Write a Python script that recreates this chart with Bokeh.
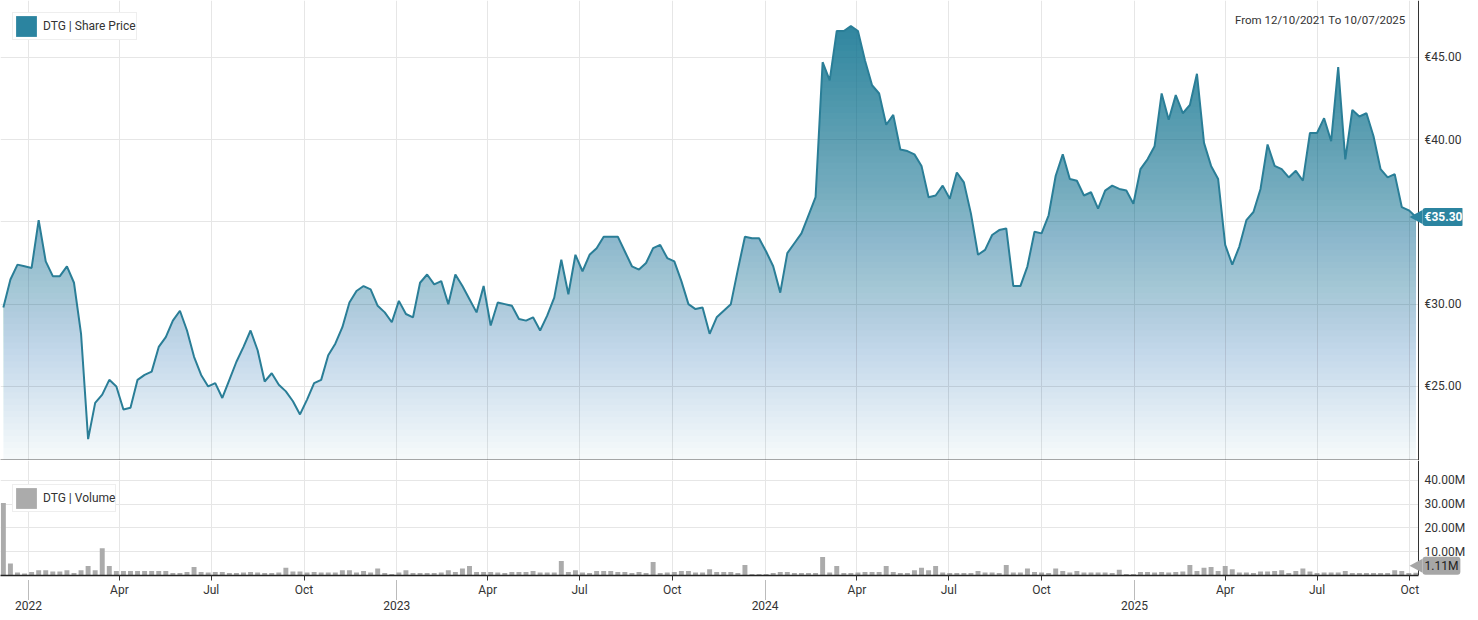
import numpy as np
import pandas as pd
from bokeh.plotting import figure
from bokeh.layouts import column
from bokeh.models import (Range1d, FixedTicker, DatetimeAxis, PrintfTickFormatter,
                          Legend, LegendItem, Label, PolyAnnotation, Span, BoxAnnotation)
from bokeh.embed import file_html
from bokeh.resources import INLINE

# ---------------- data ----------------
first_week = "2021-12-07"
n_weeks = 201
dates = pd.date_range(first_week, periods=n_weeks, freq="7D")

price = [
    29.8, 31.5, 32.4, 32.3, 32.2, 35.1, 32.6, 31.7, 31.7, 32.3,
    31.3, 28.2, 21.8, 24.0, 24.5, 25.4, 25.0, 23.6, 23.7, 25.4,
    25.7, 25.9, 27.4, 28.0, 29.0, 29.6, 28.4, 26.8, 25.7, 25.0,
    25.2, 24.3, 25.4, 26.5, 27.4, 28.4, 27.2, 25.3, 25.8, 25.1,
    24.7, 24.1, 23.3, 24.2, 25.2, 25.4, 26.9, 27.6, 28.6, 30.1,
    30.8, 31.1, 30.9, 29.9, 29.5, 28.9, 30.2, 29.4, 29.2, 31.3,
    31.8, 31.2, 31.4, 30.0, 31.8, 31.1, 30.3, 29.5, 31.1, 28.7,
    30.1, 30.0, 29.9, 29.1, 29.0, 29.2, 28.4, 29.3, 30.4, 32.7,
    30.6, 33.0, 32.0, 33.0, 33.4, 34.1, 34.1, 34.1, 33.2, 32.3,
    32.1, 32.5, 33.4, 33.6, 32.8, 32.6, 31.4, 30.0, 29.7, 29.8,
    28.2, 29.2, 29.6, 30.0, 32.1, 34.1, 34.0, 34.0, 33.2, 32.3,
    30.7, 33.1, 33.7, 34.3, 35.4, 36.5, 44.7, 43.6, 46.6, 46.6,
    46.9, 46.6, 44.8, 43.3, 42.8, 40.9, 41.5, 39.4, 39.3, 39.1,
    38.4, 36.5, 36.6, 37.2, 36.4, 38.0, 37.4, 35.5, 33.0, 33.3,
    34.2, 34.5, 34.6, 31.1, 31.1, 32.3, 34.4, 34.3, 35.4, 37.8,
    39.1, 37.6, 37.5, 36.6, 36.8, 35.8, 36.9, 37.2, 37.0, 36.9,
    36.1, 38.2, 38.8, 39.6, 42.8, 41.2, 42.7, 41.6, 42.1, 44.0,
    39.8, 38.4, 37.6, 33.6, 32.4, 33.5, 35.1, 35.6, 37.0, 39.7,
    38.4, 38.2, 37.7, 38.1, 37.5, 40.4, 40.4, 41.3, 39.9, 44.4,
    38.8, 41.8, 41.4, 41.6, 40.2, 38.2, 37.7, 37.9, 35.9, 35.7,
    35.3,
]

volume_m = [
    30.4, 5.0, 1.3, 0.8, 1.5, 2.2, 2.2, 1.7, 1.7, 2.2,
    1.1, 2.2, 4.0, 2.2, 11.4, 4.0, 1.9, 1.9, 1.9, 1.9,
    1.9, 1.9, 1.9, 1.9, 1.0, 1.0, 1.5, 3.6, 1.5, 1.3,
    1.5, 1.5, 1.0, 1.0, 1.3, 1.5, 1.3, 1.0, 1.0, 1.3,
    3.3, 1.7, 1.7, 1.3, 1.5, 1.3, 1.3, 1.3, 2.2, 2.2,
    1.3, 1.9, 1.3, 2.9, 1.0, 0.6, 1.3, 2.2, 1.0, 1.0,
    1.0, 1.0, 1.3, 2.2, 1.5, 2.9, 4.0, 1.5, 1.5, 1.5,
    1.3, 1.0, 1.5, 1.5, 1.5, 1.9, 1.3, 1.3, 1.3, 6.1,
    1.5, 2.2, 1.3, 1.0, 1.9, 1.9, 1.9, 1.5, 1.5, 1.0,
    1.5, 1.0, 5.7, 1.0, 1.3, 1.5, 1.9, 1.9, 1.3, 1.3,
    2.6, 1.5, 1.5, 1.5, 1.0, 4.4, 0.6, 0.6, 0.6, 1.0,
    1.5, 1.5, 1.0, 1.0, 1.0, 1.0, 7.8, 1.3, 4.0, 1.0,
    1.0, 1.3, 1.5, 1.5, 1.5, 4.0, 1.5, 1.0, 1.0, 2.2,
    3.3, 2.2, 4.0, 1.3, 1.0, 1.0, 1.0, 1.0, 1.9, 1.3,
    1.3, 1.0, 4.4, 1.3, 1.3, 2.9, 1.5, 1.3, 1.0, 2.9,
    1.9, 1.3, 1.9, 1.3, 1.3, 1.3, 1.3, 1.0, 2.4, 0.6,
    0.6, 1.5, 1.5, 1.3, 1.5, 1.3, 1.5, 1.7, 4.4, 1.9,
    3.3, 3.6, 1.9, 4.0, 2.6, 1.3, 1.3, 1.0, 1.7, 1.7,
    1.9, 2.2, 1.0, 1.9, 2.9, 1.7, 1.0, 1.3, 1.3, 1.3,
    1.9, 1.0, 1.0, 1.0, 1.0, 1.0, 1.0, 2.2, 1.9, 1.0,
    1.11,
]

month_ticks = ["2022-04-01", "2022-07-01", "2022-10-01",
               "2023-04-01", "2023-07-01", "2023-10-01",
               "2024-04-01", "2024-07-01", "2024-10-01",
               "2025-04-01", "2025-07-01", "2025-10-01"]
month_labels = ["Apr", "Jul", "Oct"] * 4
year_ticks = ["2022-01-01", "2023-01-01", "2024-01-01", "2025-01-01"]
year_labels = ["2022", "2023", "2024", "2025"]
price_ticks = [25, 30, 35, 40, 45]
volume_ticks = [10, 20, 30, 40]

range_text = "From 12/10/2021 To 10/07/2025"
price_name = "DTG | Share Price"
volume_name = "DTG | Volume"

# ---------------- style / geometry ----------------
FONT = "Roboto"
TEAL = "#2b84a0"
LINE = "#2a7e97"
VOL_GRAY = "#ababab"
BADGE_GRAY = "#a6a6a6"
GRID = "#e6e6e6"
TXT = "#333333"
TICK_FS = "12px"

def ms(d):
    return pd.Timestamp(d).value / 1e6

x_ms = np.array([d.value / 1e6 for d in dates])
x_start = ms("2021-12-04 04:00")
x_axis = ms("2025-10-09 14:00")      # position of the right value axis line
FW = 1462                              # frame width (whole figure)
AX_PX = 1418                           # pixel position of the axis line inside the frame
mpp = (x_axis - x_start) / AX_PX
x_end = x_axis + (FW - AX_PX) * mpp
P_LO, P_HI = 20.5, 48.45
V_LO, V_HI = 0.0, 48.3
FH1, FH2 = 460, 115

q_ms = [ms(d) for d in year_ticks + month_ticks]
m_ms = [ms(d) for d in month_ticks]
y_ms = [ms(d) for d in year_ticks]

xr = Range1d(x_start, x_end)


def base_fig(frame_h, y_lo, y_hi, ticks, fmt):
    p = figure(x_axis_type="datetime", y_axis_location="right", x_range=xr,
               y_range=Range1d(y_lo, y_hi), frame_width=FW, frame_height=frame_h,
               output_backend="svg", toolbar_location=None,
               min_border_left=0, min_border_right=0, min_border_top=0,
               min_border_bottom=0)
    p.outline_line_color = None
    p.background_fill_color = "white"
    p.border_fill_color = "white"
    p.xgrid.ticker = FixedTicker(ticks=sorted(q_ms))
    p.xgrid.grid_line_color = GRID
    p.ygrid.grid_line_color = GRID
    p.ygrid.ticker = FixedTicker(ticks=ticks)
    ax = p.yaxis[0]
    ax.ticker = FixedTicker(ticks=ticks)
    ax.formatter = PrintfTickFormatter(format=fmt)
    ax.axis_line_color = None
    ax.major_tick_line_color = None
    ax.minor_tick_line_color = None
    ax.major_tick_in = 0
    ax.major_tick_out = 0
    ax.major_label_standoff = -(FW - AX_PX) + 6
    ax.major_label_text_font = FONT
    ax.major_label_text_font_size = TICK_FS
    ax.major_label_text_color = TXT
    # keep grid lines out of the value-label zone
    p.add_layout(BoxAnnotation(left=x_axis, fill_color="white", fill_alpha=1,
                               line_color=None, level="underlay"))
    p.add_layout(Span(location=x_axis, dimension="height", line_color=TXT, line_width=1))
    return p


def add_badge(p, yval, text, bg, fg, bold, epp, lift_px=0):
    yc = yval + lift_px * epp
    p.add_layout(PolyAnnotation(xs=[x_axis - 9 * mpp, x_axis + 4 * mpp, x_axis + 4 * mpp],
                                ys=[yc, yc + 7 * epp, yc - 7 * epp],
                                fill_color=bg, fill_alpha=1, line_color=None))
    p.add_layout(Label(x=x_axis, y=yval, x_offset=4, y_offset=lift_px, text=text,
                       text_align="left", text_baseline="middle", text_font=FONT,
                       text_font_size=TICK_FS, text_font_style="bold" if bold else "normal",
                       text_color=fg, background_fill_color=bg, background_fill_alpha=1,
                       padding=2, border_radius=3))


def make_legend(renderer, label, loc, margin):
    return Legend(items=[LegendItem(label=label, renderers=[renderer])],
                  location=loc, margin=margin, padding=0, spacing=0,
                  glyph_width=26, glyph_height=26, label_height=26, label_standoff=4,
                  label_text_font=FONT, label_text_font_size="12px",
                  label_text_color=TXT, border_line_color="#dddddd",
                  background_fill_color="white", background_fill_alpha=1)

# ---------------- price panel ----------------
p1 = base_fig(FH1, P_LO, P_HI, price_ticks, "€%.2f")
xa = p1.xaxis[0]
xa.ticker = FixedTicker(ticks=[])
xa.bounds = (x_start, x_axis)
xa.axis_line_color = "#555555"
xa.axis_line_width = 2
xa.major_tick_line_color = None
xa.minor_tick_line_color = None
xa.major_tick_in = 0
xa.major_tick_out = 0
xa.major_label_standoff = 0

# gradient fill under the price curve: stacked translucent layers
p_arr = np.array(price, dtype=float)
fill_top = float(p_arr.max())
N = 70
levels = np.linspace(P_LO, fill_top, N + 1)[:-1]
step = levels[1] - levels[0]


def densify(xv, yv, lv):
    xs, ys = [xv[0]], [yv[0]]
    for i in range(len(xv) - 1):
        a, b = yv[i], yv[i + 1]
        if a != b:
            lo, hi = min(a, b), max(a, b)
            cross = lv[(lv > lo) & (lv < hi)]
            if b < a:
                cross = cross[::-1]
            for L in cross:
                t = (L - a) / (b - a)
                xs.append(xv[i] + t * (xv[i + 1] - xv[i]))
                ys.append(L)
        xs.append(xv[i + 1])
        ys.append(b)
    return np.array(xs), np.array(ys)


xd, yd = densify(x_ms, p_arr, levels)


def opacity(h):
    return np.clip(0.04 + 0.91 * (h - P_LO) / (fill_top - P_LO), 0, 0.99)


A = opacity(levels + step / 2)
alphas = [A[0]] + [1 - (1 - A[k]) / (1 - A[k - 1]) for k in range(1, N)]
for k in range(N):
    p1.varea(x=xd, y1=levels[k], y2=np.maximum(yd, levels[k]),
             fill_color=TEAL, fill_alpha=float(alphas[k]))

p1.line(x=x_ms, y=price, line_color=LINE, line_width=2)

swatch = p1.quad(left=x_ms[:1], right=x_ms[:1], top=price[:1], bottom=price[:1],
                 fill_color=TEAL, line_color=None, visible=False)
p1.add_layout(make_legend(swatch, price_name, "top_left", 12))

p1.add_layout(Label(x=x_axis, y=P_HI, x_offset=-13, y_offset=-19, text=range_text,
                    text_align="right", text_baseline="middle", text_font=FONT,
                    text_font_size="11.5px", text_color=TXT))

add_badge(p1, price[-1], f"€{price[-1]:.2f}", TEAL, "white", True,
          (P_HI - P_LO) / FH1)

# ---------------- volume panel ----------------
p2 = base_fig(FH2, V_LO, V_HI, volume_ticks, "%.2fM")

bars = p2.vbar(x=x_ms, top=volume_m, width=4.9 * 86400000, fill_color=VOL_GRAY,
               line_color=None)

mx = p2.xaxis[0]
mx.ticker = FixedTicker(ticks=m_ms)
mx.bounds = (x_start, x_axis)
mx.major_label_overrides = {float(t): lab for t, lab in zip(m_ms, month_labels)}
mx.axis_line_color = "#222222"
mx.axis_line_width = 1.5
mx.major_tick_line_color = "#333333"
mx.major_tick_in = 0
mx.major_tick_out = 5
mx.minor_tick_line_color = None
mx.major_label_standoff = 2
mx.major_label_text_font = FONT
mx.major_label_text_font_size = TICK_FS
mx.major_label_text_color = TXT

yx = DatetimeAxis(ticker=FixedTicker(ticks=y_ms))
yx.major_label_overrides = {float(t): lab for t, lab in zip(y_ms, year_labels)}
yx.axis_line_color = None
yx.major_tick_line_color = "#777777"
yx.major_tick_line_dash = "1 1"
yx.major_tick_in = 20
yx.major_tick_out = 0
yx.minor_tick_line_color = None
yx.major_label_standoff = 1
yx.major_label_text_font = FONT
yx.major_label_text_font_size = TICK_FS
yx.major_label_text_color = TXT
p2.add_layout(yx, "below")

p2.add_layout(make_legend(bars, volume_name, (12, FH2 - 26 - 26), 0))

add_badge(p2, volume_m[-1], f"{volume_m[-1]:.2f}M", BADGE_GRAY, "#222222", False,
          (V_HI - V_LO) / FH2, lift_px=7)

layout = column(p1, p2, spacing=0)
open("out.html", "w").write(file_html(layout, INLINE))
